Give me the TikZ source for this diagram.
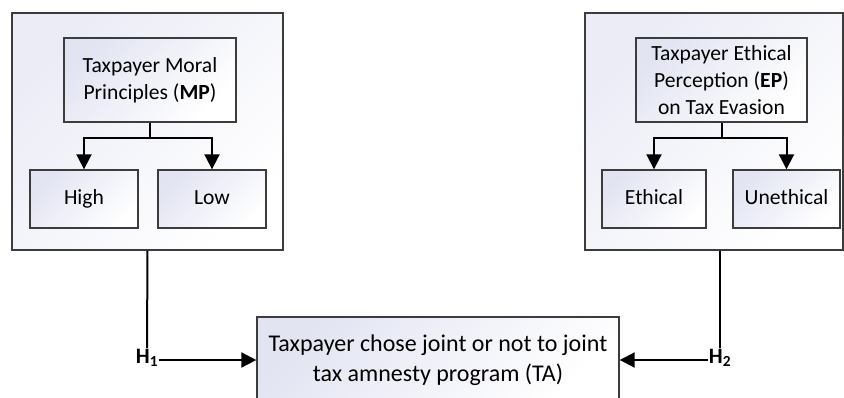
\documentclass[tikz,border=0pt]{standalone}
\usepackage{fontspec}
\setmainfont{Carlito}
\usetikzlibrary{arrows.meta}
\definecolor{lav}{RGB}{226,228,242}
\definecolor{edge}{RGB}{60,60,60}
\tikzset{
  box/.style={draw=edge, line width=1.4pt, top color=lav, bottom color=white, shading angle=45,
    align=center, inner sep=1pt, font=\fontsize{21.6}{27}\selectfont},
  small/.style={box, minimum height=58pt, text height=15pt, text depth=5pt},
  outer/.style={draw=edge, line width=1.4pt, top color=lav!70, bottom color=white, shading angle=45},
  arr/.style={line width=2pt, -{Triangle[length=15pt,width=15pt]}},
  ln/.style={line width=2pt},
  hlab/.style={font=\fontsize{22}{24}\selectfont\bfseries, inner sep=1pt}
}
\begin{document}
\begin{tikzpicture}[x=1pt,y=-1pt]
\useasboundingbox (0,0) rectangle (844,397);
% outer boxes
\node[outer, minimum width=271pt, minimum height=237pt] (lbox) at (147.5,131.5) {};
\node[outer, minimum width=258pt, minimum height=237pt] (rbox) at (714,131.5) {};
% left group
\node[box, minimum width=172pt, minimum height=84pt] (mp) at (150,80) {Taxpayer Moral\\Principles (\textbf{MP})};
\node[small, minimum width=108pt] (high) at (84,199) {High};
\node[small, minimum width=108pt] (low) at (212,199) {Low};
% right group
\node[box, minimum width=171pt, minimum height=84pt] (ep) at (721.5,80) {Taxpayer Ethical\\Perception (\textbf{EP})\\on Tax Evasion};
\node[small, minimum width=104pt] (eth) at (654,199) {Ethical};
\node[small, minimum width=107pt] (uneth) at (786.5,199) {Unethical};
% bottom box
\node[box, minimum width=362pt, minimum height=86pt, font=\fontsize{24}{30}\selectfont] (ta) at (438,360) {Taxpayer chose joint or not to joint\\tax amnesty program (TA)};
% branch connectors
\coordinate (mpb) at (150,138);
\coordinate (epb) at (721.5,138);
\draw[arr] (mp.south) -- (mpb) -| (high.north);
\draw[arr] (mpb) -| (low.north);
\draw[arr] (ep.south) -- (epb) -| (eth.north);
\draw[arr] (epb) -| (uneth.north);
% hypotheses
\node[hlab] (h1) at (147,358) {H\textsubscript{1}};
\node[hlab] (h2) at (720,358) {H\textsubscript{2}};
\draw[ln] (lbox.south) -- (h1.north);
\draw[ln] (h2 |- rbox.south) -- (h2.north);
\draw[arr] (h1.east |- ta.west) -- (ta.west);
\draw[arr] (h2.west |- ta.east) -- (ta.east);
\end{tikzpicture}
\end{document}
